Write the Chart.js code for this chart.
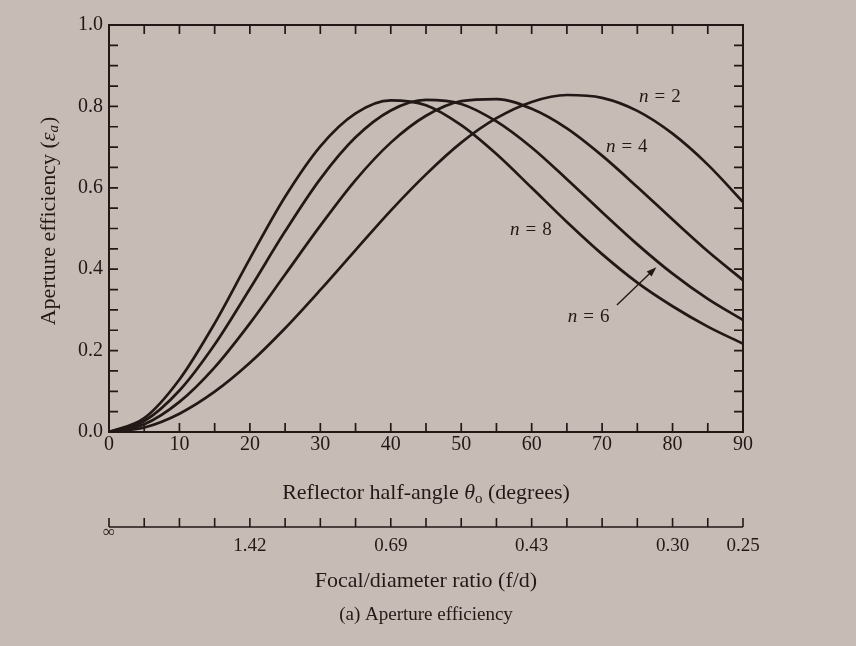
<!DOCTYPE html>
<html>
<head>
<meta charset="utf-8">
<title>Aperture efficiency</title>
<script src="https://cdn.jsdelivr.net/npm/chart.js@4.4.1/dist/chart.umd.min.js"></script>
<style>
  html, body { margin: 0; padding: 0; background: #c7bcb5; }
  canvas { display: block; }
</style>
</head>
<body>
<canvas id="chart" width="856" height="646"></canvas>
<script>
// Reflector half-angle samples, degrees
const halfAngles = [0, 5, 10, 15, 20, 25, 30, 35, 40, 45, 50, 55, 60, 65, 70, 75, 80, 85, 90];

// Aperture efficiency for cos^n feed patterns
const effN2 = [0, 0.011, 0.045, 0.099, 0.170, 0.255, 0.349, 0.447, 0.544, 0.633, 0.711, 0.771, 0.811, 0.828, 0.821, 0.789, 0.733, 0.657, 0.565];
const effN4 = [0, 0.019, 0.074, 0.159, 0.267, 0.387, 0.507, 0.619, 0.711, 0.777, 0.813, 0.818, 0.794, 0.746, 0.679, 0.602, 0.522, 0.444, 0.373];
const effN6 = [0, 0.027, 0.102, 0.215, 0.352, 0.493, 0.622, 0.724, 0.790, 0.816, 0.806, 0.763, 0.699, 0.621, 0.540, 0.461, 0.389, 0.327, 0.275];
const effN8 = [0, 0.034, 0.129, 0.267, 0.426, 0.578, 0.702, 0.783, 0.815, 0.803, 0.754, 0.683, 0.600, 0.516, 0.437, 0.367, 0.309, 0.259, 0.217];

const seriesExponents = [2, 4, 6, 8];
const seriesValues = [effN2, effN4, effN6, effN8];

// Focal/diameter ratio labels under the matching half-angles
const fdTickAngles = [0, 20, 40, 60, 80, 90];
const fdTickLabels = ['\u221E', '1.42', '0.69', '0.43', '0.30', '0.25'];

const INK = '#221917';
const SERIF = '"Liberation Serif", "Times New Roman", serif';

// Where each curve label sits, in axis units (degrees, efficiency)
const curveLabelSpots = [
  { n: 2, x: 78.2, y: 0.823 },
  { n: 4, x: 73.5, y: 0.700 },
  { n: 8, x: 59.9, y: 0.496 },
  { n: 6, x: 68.1, y: 0.283 }
];
const n6Arrow = { from: { x: 72.1, y: 0.312 }, to: { x: 77.7, y: 0.405 } };

function drawRich(ctx, parts, cx, cy, angle) {
  let total = 0;
  parts.forEach(p => {
    ctx.font = p.font;
    p.w = ctx.measureText(p.t).width + (p.gap || 0);
    total += p.w;
  });
  ctx.save();
  ctx.translate(cx, cy);
  ctx.rotate(angle || 0);
  ctx.textAlign = 'left';
  ctx.textBaseline = 'middle';
  ctx.fillStyle = INK;
  let x = -total / 2;
  parts.forEach(p => {
    ctx.font = p.font;
    ctx.fillText(p.t, x + (p.pre || 0), p.dy || 0);
    x += p.w;
  });
  ctx.restore();
}

const frameAndTicks = {
  id: 'frameAndTicks',
  afterDatasetsDraw(chart) {
    const { ctx, chartArea: a, scales } = chart;
    const xs = scales.x, ys = scales.y, fd = scales.fd;
    const L = 9;
    ctx.save();
    ctx.strokeStyle = INK;
    ctx.lineWidth = 2;
    ctx.lineCap = 'butt';
    ctx.strokeRect(a.left, a.top, a.right - a.left, a.bottom - a.top);

    // inward tick marks on all four sides
    ctx.lineWidth = 1.7;
    ctx.beginPath();
    xs.ticks.forEach(t => {
      const px = xs.getPixelForValue(t.value);
      ctx.moveTo(px, a.bottom); ctx.lineTo(px, a.bottom - L);
      ctx.moveTo(px, a.top); ctx.lineTo(px, a.top + L);
    });
    ys.ticks.forEach(t => {
      const py = ys.getPixelForValue(t.value);
      ctx.moveTo(a.left, py); ctx.lineTo(a.left + L, py);
      ctx.moveTo(a.right, py); ctx.lineTo(a.right - L, py);
    });
    ctx.stroke();

    // f/d scale: baseline with upward ticks
    const base = fd.top + L;
    ctx.lineWidth = 1.6;
    ctx.beginPath();
    ctx.moveTo(fd.getPixelForValue(fd.min), base);
    ctx.lineTo(fd.getPixelForValue(fd.max), base);
    fd.ticks.forEach(t => {
      const px = fd.getPixelForValue(t.value);
      ctx.moveTo(px, base); ctx.lineTo(px, base - L);
    });
    ctx.stroke();

    const cx = (a.left + a.right) / 2;
    const cy = (a.top + a.bottom) / 2;
    const f22 = '22px ' + SERIF, i22 = 'italic 22px ' + SERIF;

    drawRich(ctx, [
      { t: 'Reflector half-angle ', font: f22 },
      { t: '\u03B8', font: i22 },
      { t: 'o', font: '15px ' + SERIF, dy: 6 },
      { t: ' (degrees)', font: f22 }
    ], cx, xs.top + 61);

    drawRich(ctx, [{ t: 'Focal/diameter ratio (f/d)', font: f22 }], cx, fd.top + 63);
    drawRich(ctx, [{ t: '(a) Aperture efficiency', font: '19px ' + SERIF }], cx, fd.top + 97);

    drawRich(ctx, [
      { t: 'Aperture efficiency (', font: f22 },
      { t: '\u03B5', font: i22 },
      { t: 'a', font: 'italic 15px ' + SERIF, dy: 5 },
      { t: ')', font: f22, pre: 1 }
    ], 49, cy - 7, -Math.PI / 2);

    // curve labels
    curveLabelSpots.forEach(s => {
      drawRich(ctx, [
        { t: 'n', font: 'italic 19px ' + SERIF, gap: 6 },
        { t: '=', font: '19px ' + SERIF, gap: 6 },
        { t: String(s.n), font: '19px ' + SERIF }
      ], xs.getPixelForValue(s.x), ys.getPixelForValue(s.y));
    });

    // pointer to the n = 6 curve
    const x0 = xs.getPixelForValue(n6Arrow.from.x), y0 = ys.getPixelForValue(n6Arrow.from.y);
    const x1 = xs.getPixelForValue(n6Arrow.to.x), y1 = ys.getPixelForValue(n6Arrow.to.y);
    const ang = Math.atan2(y1 - y0, x1 - x0);
    ctx.lineWidth = 1.4;
    ctx.beginPath();
    ctx.moveTo(x0, y0);
    ctx.lineTo(x1 - 6 * Math.cos(ang), y1 - 6 * Math.sin(ang));
    ctx.stroke();
    ctx.fillStyle = INK;
    ctx.beginPath();
    ctx.moveTo(x1, y1);
    ctx.lineTo(x1 - 10 * Math.cos(ang) + 3.5 * Math.sin(ang), y1 - 10 * Math.sin(ang) - 3.5 * Math.cos(ang));
    ctx.lineTo(x1 - 10 * Math.cos(ang) - 3.5 * Math.sin(ang), y1 - 10 * Math.sin(ang) + 3.5 * Math.cos(ang));
    ctx.closePath();
    ctx.fill();
    ctx.restore();
  }
};

const datasets = seriesValues.map((vals, k) => ({
  label: 'n = ' + seriesExponents[k],
  data: halfAngles.map((deg, i) => ({ x: deg, y: vals[i] })),
  borderColor: INK,
  borderWidth: 2.7,
  pointRadius: 0,
  fill: false,
  cubicInterpolationMode: 'monotone'
}));

new Chart(document.getElementById('chart'), {
  type: 'line',
  data: { datasets },
  options: {
    responsive: false,
    animation: false,
    devicePixelRatio: 1,
    layout: { padding: { left: 0, top: 25, right: 113, bottom: 0 } },
    plugins: { legend: { display: false }, tooltip: { enabled: false } },
    scales: {
      x: {
        type: 'linear', position: 'bottom', weight: 0, min: 0, max: 90,
        afterFit(s) { s.height = 86; },
        grid: { display: false, drawTicks: false },
        border: { display: false },
        ticks: {
          stepSize: 5, autoSkip: false, maxRotation: 0, padding: 1, color: INK,
          font: { family: SERIF, size: 20 },
          callback: v => (v % 10 === 0 ? String(v) : '')
        }
      },
      fd: {
        type: 'linear', position: 'bottom', weight: 1, min: 0, max: 90,
        afterFit(s) { s.height = 128; },
        grid: { display: false, drawTicks: false },
        border: { display: false },
        ticks: {
          stepSize: 5, autoSkip: false, maxRotation: 0, padding: 10, color: INK,
          font: c => {
            const inf = c.tick && c.tick.value === 0;
            return { family: SERIF, size: inf ? 17 : 19, lineHeight: inf ? '10px' : '36px' };
          },
          callback: v => {
            const k = fdTickAngles.indexOf(v);
            return k >= 0 ? fdTickLabels[k] : '';
          }
        }
      },
      y: {
        type: 'linear', min: 0, max: 1,
        afterFit(s) { s.width = 109; },
        grid: { display: false, drawTicks: false },
        border: { display: false },
        ticks: {
          stepSize: 0.05, autoSkip: false, padding: 6, color: INK,
          font: { family: SERIF, size: 20 },
          callback: v => (Math.abs(v * 5 - Math.round(v * 5)) < 1e-6 ? v.toFixed(1) : '')
        }
      }
    }
  },
  plugins: [frameAndTicks]
});
</script>
</body>
</html>
